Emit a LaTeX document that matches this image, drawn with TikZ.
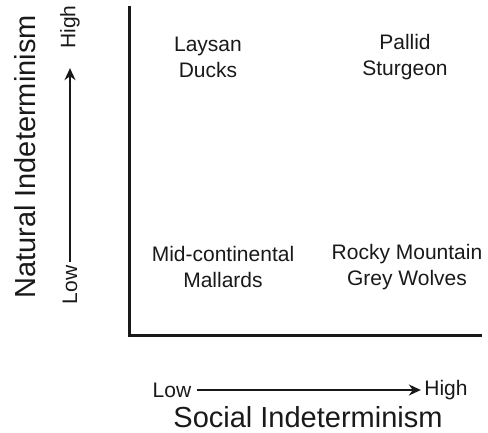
\documentclass[tikz,border=0pt]{standalone}
\usepackage{fontspec}
\setmainfont{Liberation Sans}
\usetikzlibrary{arrows.meta, positioning}
\definecolor{InkGrey}{RGB}{25,25,25}

\begin{document}
\begin{tikzpicture}[x=1pt, y=-1pt,
    species/.style={align=center, text=InkGrey, font=\fontsize{21}{26}\selectfont},
    tick/.style={text=InkGrey, font=\fontsize{21}{24}\selectfont},
    axtitle/.style={text=InkGrey, font=\fontsize{29}{32}\selectfont},
    scale arrow/.style={draw=InkGrey, line width=2.6pt, -{Stealth[length=12pt, width=11pt]}}]
  \useasboundingbox (0,0) rectangle (488,432);

  % axes
  \coordinate (ytop) at (129,6);
  \coordinate (xend) at (482,335);
  \draw[InkGrey, line width=3pt] (ytop) |- (xend);

  % species in the four corners
  \foreach \n/\x/\y/\txt in {
      laysan/208/57/{Laysan\\Ducks},
      pallid/405/57/{Pallid\\Sturgeon},
      mallard/223/267/{Mid-continental\\Mallards},
      wolves/407/267/{Rocky Mountain\\Grey Wolves}} {
    \node[species] (\n) at (\x,\y) {\txt};
  }

  % social scale
  \node[tick] (xlow) at (172,390) {Low};
  \node[tick] (xhigh) at (446,390) {High};
  \draw[scale arrow, shorten <=2pt] (xlow) -- (xhigh);
  \node[axtitle] (xtitle) at (308,417) {Social Indeterminism};

  % natural scale
  \node[tick, rotate=90] (ylow) at (70,285) {Low};
  \node[tick, rotate=90] (yhigh) at (70,27) {High};
  \draw[scale arrow, shorten >=16pt] (ylow) -- (yhigh);
  \node[axtitle, rotate=90] (ytitle) at (25,157) {Natural Indeterminism};
\end{tikzpicture}
\end{document}
